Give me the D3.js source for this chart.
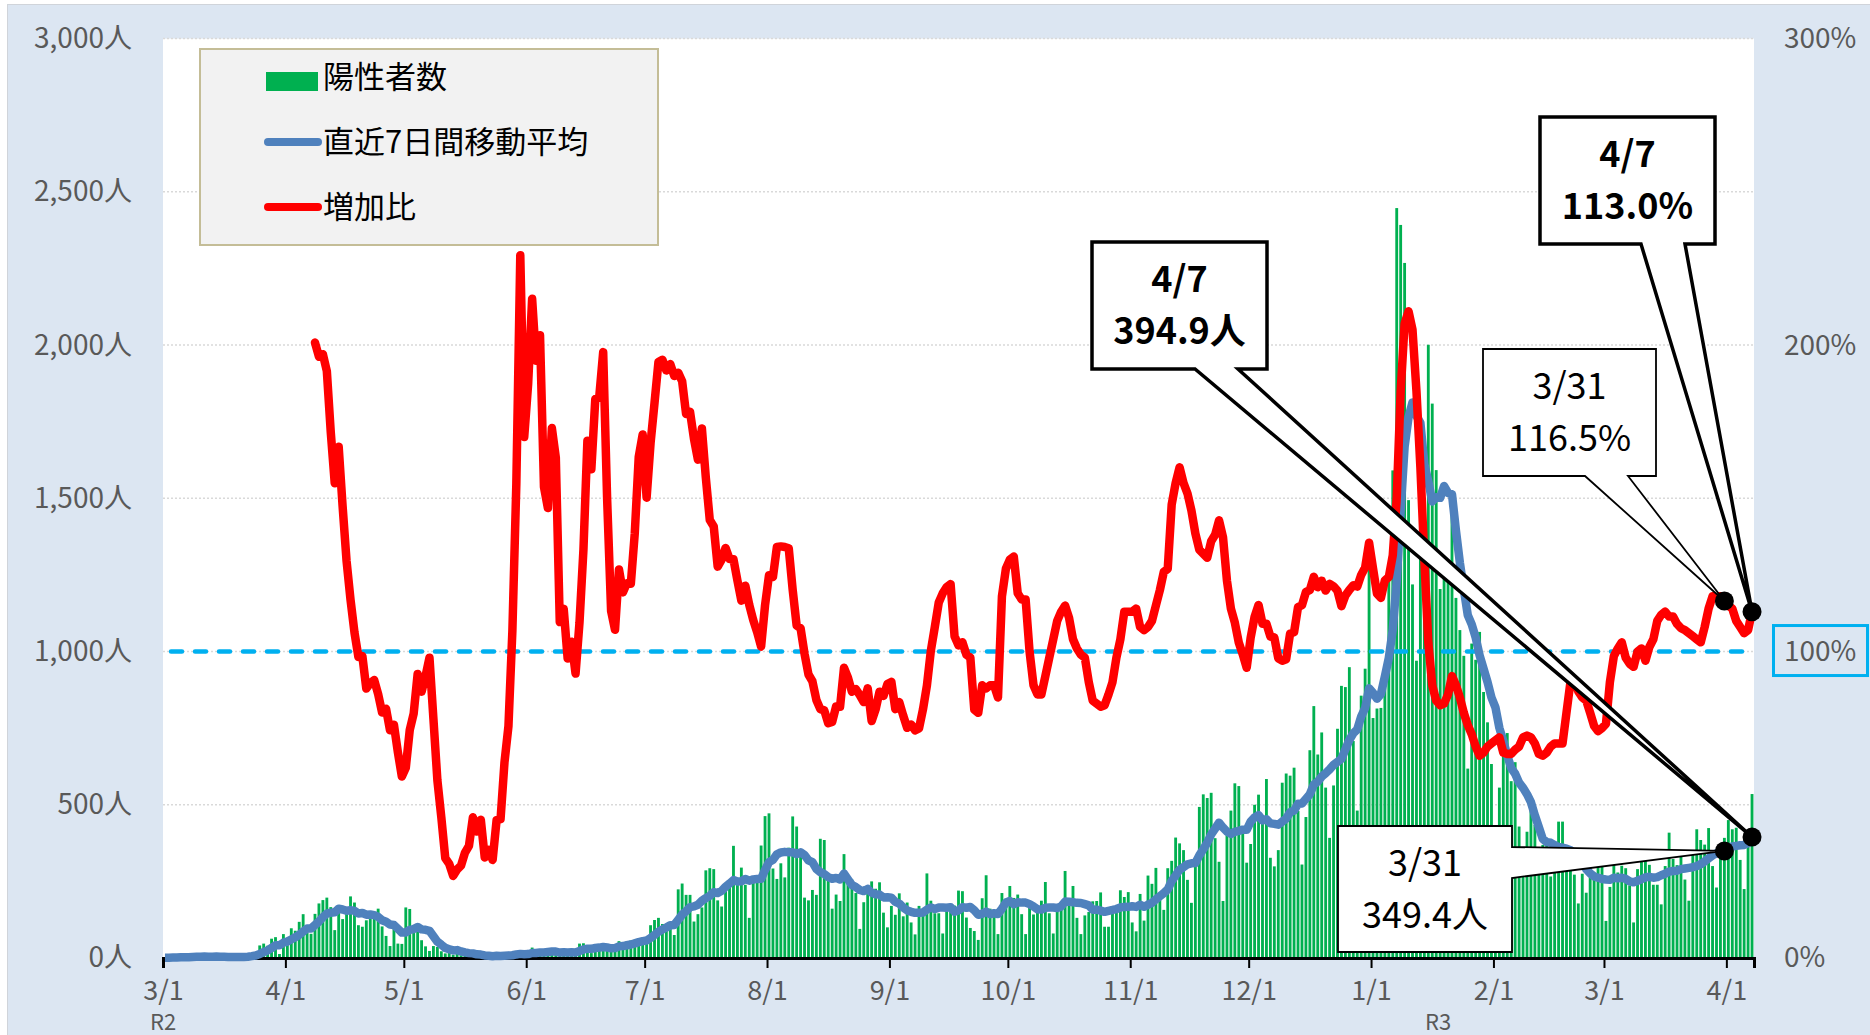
<!DOCTYPE html>
<html>
<head>
<meta charset="utf-8">
<script src="https://cdn.jsdelivr.net/npm/d3@7"></script>
<style>
	body { margin: 0; background: #fff; }
	svg { display: block; }
	text { font-family: "Noto Sans CJK JP", "Noto Sans", sans-serif; }
</style>
</head>
<body>
<div id="chart"></div>
<script>
// daily positive cases, 2020-03-01 .. 2021-04-07
var startDate = new Date(2020, 2, 1);
var cases = [
	// 2020 Mar
	0,0,1,3,8,5,2,6,2,4,7,5,5,4,1,2,1,7,4,1,9,4,16,17,41,47,40,63,68,13,78,
	// Apr
	66,97,89,118,143,83,79,144,178,189,197,166,91,161,127,149,201,181,107,102,123,132,134,161,103,72,39,112,47,46,
	// May
	165,160,91,87,58,38,23,39,36,22,15,28,10,30,9,14,5,10,5,5,11,3,2,14,8,10,11,15,22,14,5,
	// Jun
	13,34,12,28,20,26,14,13,12,18,22,25,24,47,48,27,16,41,35,39,35,29,31,55,48,54,57,60,58,54,
	// Jul
	67,107,124,131,111,102,106,75,224,243,206,206,119,143,165,286,293,290,188,168,237,238,366,260,295,239,131,266,250,367,463,
	// Aug
	472,292,258,309,263,360,462,429,331,197,188,222,206,389,385,260,161,207,186,339,258,256,212,95,182,236,250,226,247,148,100,
	// Sep
	170,141,211,136,181,116,77,170,149,276,187,146,146,80,163,163,171,220,218,132,98,88,59,195,270,161,152,78,212,194,
	// Oct
	235,196,207,143,78,177,142,173,187,248,146,80,167,177,284,185,235,131,78,139,150,185,186,214,102,102,158,171,221,199,215,
	// Nov
	116,87,209,122,269,242,294,189,157,293,317,393,374,352,255,180,298,493,534,522,539,391,314,186,401,481,570,561,418,311,
	// Dec
	372,500,533,449,584,327,299,352,572,602,595,621,480,305,460,678,822,664,736,556,392,563,748,888,884,949,708,481,856,944,1337,
	// 2021 Jan
	783,814,816,884,1278,1591,2447,2392,2268,1494,1219,970,1433,1502,2001,1809,1592,1204,1240,1274,1471,1175,1070,986,618,1026,973,1064,868,769,633,
	// Feb
	393,556,676,734,577,639,429,276,412,491,434,307,369,371,266,378,445,445,353,327,272,178,275,213,340,270,337,329,
	// Mar
	121,232,316,279,301,293,237,116,290,340,335,304,239,239,175,300,409,323,303,342,256,187,337,420,385,370,424,300,230,345,392,
	// Apr
	450,420,425,320,225,380,535
];

// 7-day moving average (same days)
var movingAvg = [
	1.0,1.1,1.3,1.6,2.3,2.7,2.7,3.6,3.9,4.3,
	4.9,4.4,4.4,4.7,4.0,4.0,3.6,3.6,3.4,2.9,
	3.6,4.0,6.0,8.3,13.1,19.3,24.9,32.6,41.7,41.3,
	50.0,53.6,60.7,67.7,75.6,86.3,96.3,96.4,107.6,119.1,
	133.4,144.7,148.0,149.1,160.9,158.4,154.3,156.0,153.7,145.3,
	146.9,141.4,142.1,140.0,134.3,123.1,118.1,109.1,107.6,95.4,
	82.9,83.4,91.6,94.3,101.1,93.4,92.1,88.9,70.9,53.1,
	43.3,33.0,28.7,24.7,25.7,21.4,18.3,15.9,15.1,11.9,
	11.1,8.4,7.6,5.9,7.1,6.9,7.6,8.4,9.0,11.7,
	13.4,12.1,12.9,16.3,16.4,18.3,18.0,19.7,21.0,21.0,
	17.9,18.7,17.9,18.6,18.3,23.0,28.0,30.1,29.9,32.6,
	34.0,36.1,34.4,31.7,32.3,37.9,38.9,41.6,44.1,47.7,
	51.9,55.1,56.9,65.3,75.3,85.9,93.1,99.4,106.9,108.0,
	124.7,141.7,152.4,166.0,168.4,173.7,186.6,195.4,202.6,214.6,
	212.0,219.0,232.4,242.9,254.3,249.6,250.3,257.6,252.3,256.4,
	258.1,258.3,287.3,312.6,320.1,338.3,344.4,346.3,345.3,345.1,
	339.0,344.6,335.9,318.6,312.7,290.7,280.3,274.0,263.9,258.7,
	261.4,256.3,275.3,256.6,238.1,231.3,221.9,218.3,225.4,212.7,
	208.1,206.9,197.7,198.4,196.7,183.1,177.6,164.7,155.3,150.7,
	147.4,147.4,148.6,157.9,165.1,160.1,164.4,164.9,163.9,165.9,
	150.9,155.6,165.9,163.9,166.4,155.7,140.9,144.3,151.4,143.3,
	146.1,143.3,161.0,180.3,186.0,175.4,182.0,180.7,180.7,175.7,
	168.3,159.4,158.1,164.0,164.4,164.7,163.3,168.3,184.1,183.9,
	182.0,179.9,179.6,175.6,171.7,157.6,157.7,154.7,150.6,154.0,
	156.7,159.7,164.9,166.7,166.9,168.9,166.7,174.0,167.0,173.9,
	180.0,191.3,201.7,211.7,223.7,251.6,269.3,288.1,296.4,305.9,
	309.1,309.9,335.0,355.1,376.3,403.0,422.4,441.6,425.6,412.4,
	404.9,411.7,414.9,418.7,418.3,444.9,459.0,466.4,449.1,452.4,
	439.4,437.7,434.9,445.1,455.0,475.9,481.1,503.0,503.9,519.3,
	534.4,565.9,575.7,592.1,603.0,615.4,630.1,640.1,649.6,681.0,
	711.4,733.1,745.9,787.7,815.7,879.9,865.4,846.1,861.6,919.1,
	979.4,1071.9,1230.4,1460.3,1668.0,1764.9,1812.7,1768.7,1746.1,1611.1,
	1555.3,1489.7,1503.7,1501.6,1540.1,1517.4,1513.0,1395.0,1289.4,1202.9,
	1119.1,1088.6,1045.6,987.4,943.6,900.6,850.1,818.0,750.9,708.4,
	661.3,619.7,601.1,572.0,555.3,534.7,508.3,465.4,426.9,388.3,
	378,376,368,362,360,357,352,340,326,312,
	290,276,266,262,258,256,255,262,260,262,
	258,250,247,252,257,263,265,262,264,270,
	275,282,284,285,290,292,294,296,300,306,
	315,325,335,342,347,349.4,358,364,366,368,
	369,375,394.9
];

// week-on-week ratio (%), first value on 2020-04-08
var ratioStart = 38;
var ratio = [
	200.8,196.2,197.0,191.5,171.5,154.9,166.8,147.3,129.5,116.9,
	106.2,98.2,98.5,87.9,89.7,90.7,86.1,80.1,81.3,74.3,
	76.1,67.1,59.2,62.1,74.4,79.8,92.7,86.9,92,98,
	78,58.0,45.9,32.6,30.7,26.8,28.9,30.2,34.4,36.6,
	45.9,41.3,45.1,32.8,35.3,32.0,45.0,45.3,63.9,75.6,
	106.8,154.7,229.3,170.0,187.5,215.1,194.9,203.2,153.7,146.8,
	172.9,163.3,109.6,113.9,97.7,103.2,92.8,109.5,133.3,168.8,
	159.5,182.4,183.1,197.7,149.7,113.3,107.1,126.8,119.3,122.3,
	122.1,138.6,163.5,170.8,150.2,168.0,181.1,194.5,195.2,191.7,
	193.8,189.9,191.0,188.2,177.5,178.2,169.4,162.6,172.8,156.7,
	142.9,140.8,127.7,130.0,133.8,130.2,130.1,123.2,116.6,121.5,
	115.2,110.3,106.3,101.6,115.1,124.9,124.3,134.1,134.3,134.1,
	133.7,120.1,108.5,107.6,99.3,92.5,90.3,84.2,81.2,80.8,
	76.6,77.0,82.1,82.0,94.7,91.5,86.9,87.7,85.8,83.5,
	88.0,77.3,81.1,86.9,85.5,89.4,90.1,81.2,83.5,79.1,
	75.1,76.2,74.3,74.9,81.1,88.9,100.3,108,116,119,
	121,122,105,102,103,99,98,81,80,89,
	88,89,89,85,118,127,130,131,119,117,
	117,100,89,86,86,92,98,104,110,113,
	115,111,104,101,99,98,90,84,83,82,
	82.5,86,90,98,104,113,113,113,114,108,
	107,108,110,115,120,126,127,148,155,160.1,
	155.0,151.6,146.0,138.5,133.2,131.9,130.6,136.0,138.1,142.8,
	137.3,123.1,114.0,109.4,102.9,99.1,94.7,104.5,111.3,115.2,
	109.1,109.1,104.9,104.6,97.8,97.0,97.5,105.9,106.3,114.5,
	115.1,119.4,120.1,124.4,121.0,123.1,119.9,122.1,121.3,119.8,
	114.8,118.3,120.1,121.6,121.2,125.0,127.4,135.5,127.1,118.9,
	117.5,123.2,124.3,131.4,150,185,207,211,205,185,
	160,130,103,89,84,82.5,83,86,92,89,
	85,80,76,73,69,66,67,69,70,71,
	72,67,66.6,66.6,68,69,72,72.6,72,70,
	66.6,66,67,69,70,70,70,80,90,91,
	87,85,84,80,75.7,74,75,76.4,90,98.5,
	101,103,98,96,95,100,101,97,101.5,104,
	110,112,113,111.4,111.4,109,107.6,107,106,105,
	104,103,108,114,118,118,118,116.5,115,114,
	110,108,106,107,113
];

var countTicks = [0, 500, 1000, 1500, 2000, 2500, 3000];
var pctTicks = [0, 100, 200, 300];
var monthTicks = ["2020-03-01","2020-04-01","2020-05-01","2020-06-01","2020-07-01","2020-08-01","2020-09-01",
	"2020-10-01","2020-11-01","2020-12-01","2021-01-01","2021-02-01","2021-03-01","2021-04-01"];
var eraLabels = [{date: "2020-03-01", text: "R2"}, {date: "2021-01-18", text: "R3"}];
var legendItems = ["陽性者数", "直近7日間移動平均", "増加比"];

// callouts: which point they mark and what they say
var callouts = [
	{day: 402, series: "avg", lines: ["4/7", "394.9人"], bold: true,
		box: [1092, 242, 1267, 369], side: "bottom", base: [1195, 1238]},
	{day: 402, series: "ratio", lines: ["4/7", "113.0%"], bold: true,
		box: [1540, 117, 1715, 244], side: "bottom", base: [1641, 1685]},
	{day: 395, series: "ratio", lines: ["3/31", "116.5%"], bold: false,
		box: [1483, 349, 1656, 476], side: "bottom", base: [1585, 1628]},
	{day: 395, series: "avg", lines: ["3/31", "349.4人"], bold: false,
		box: [1338, 826, 1512, 952], side: "right", base: [847, 878]}
];

var W = 1870, H = 1035;
var plot = {left: 163, right: 1754, top: 38.6, bottom: 958};
var parseDay = d3.timeParse("%Y-%m-%d");

var days = d3.timeDay.range(startDate, d3.timeDay.offset(startDate, cases.length));
var endDate = d3.timeDay.offset(startDate, cases.length);

var x = d3.scaleBand().domain(days).range([plot.left, plot.right]).paddingInner(0).paddingOuter(0);
var xt = d3.scaleTime().domain([startDate, endDate]).range([plot.left, plot.right]);
var y = d3.scaleLinear().domain([0, 3000]).range([plot.bottom, plot.top]);
var yr = d3.scaleLinear().domain([0, 300]).range([plot.bottom, plot.top]);
var bw = x.bandwidth();

var svg = d3.select("#chart").append("svg")
	.attr("width", W)
	.attr("height", H);

svg.append("rect")
	.attr("x", 7.5).attr("y", 4.5)
	.attr("width", W - 7).attr("height", H - 4)
	.attr("fill", "#dce6f2")
	.attr("stroke", "#d0d4da");

svg.append("rect")
	.attr("x", plot.left).attr("y", plot.top)
	.attr("width", plot.right - plot.left)
	.attr("height", plot.bottom - plot.top)
	.attr("fill", "#fff");

// gridlines
svg.append("g")
	.selectAll("line")
	.data(countTicks.filter(function(d) { return d > 0; }))
	.enter().append("line")
	.attr("x1", plot.left).attr("x2", plot.right)
	.attr("y1", function(d) { return y(d); })
	.attr("y2", function(d) { return y(d); })
	.attr("stroke", "#d9d9d9")
	.attr("stroke-width", 1.5)
	.attr("stroke-dasharray", "2,2");

// left axis
var leftAxis = svg.append("g")
	.attr("transform", "translate(132,0)")
	.call(d3.axisLeft(y).tickValues(countTicks).tickSize(0).tickPadding(0)
		.tickFormat(function(d) { return d3.format(",")(d) + "人"; }));
leftAxis.select(".domain").remove();
leftAxis.selectAll("text")
	.attr("font-size", 28)
	.attr("fill", "#595959")
	.attr("font-family", "\"Noto Sans CJK JP\", sans-serif");

// right axis
var rightAxis = svg.append("g")
	.attr("transform", "translate(1784,0)")
	.call(d3.axisRight(yr).tickValues(pctTicks).tickSize(0).tickPadding(0)
		.tickFormat(function(d) { return d + "%"; }));
rightAxis.select(".domain").remove();
rightAxis.selectAll("text")
	.attr("font-size", 28)
	.attr("fill", "#595959")
	.attr("font-family", "\"Noto Sans CJK JP\", sans-serif");

svg.append("rect")
	.attr("x", 1773.5).attr("y", yr(100) - 26)
	.attr("width", 94).attr("height", 50)
	.attr("fill", "none")
	.attr("stroke", "#00b0f0")
	.attr("stroke-width", 3);

// bars
svg.append("g")
	.selectAll("rect")
	.data(cases)
	.enter().append("rect")
	.attr("x", function(d, i) { return x(days[i]) + bw * 0.14; })
	.attr("width", bw * 0.72)
	.attr("y", function(d) { return y(d); })
	.attr("height", function(d) { return plot.bottom - y(d); })
	.attr("fill", "#00b050");

// 100% reference line
svg.append("line")
	.attr("x1", plot.left + 8).attr("x2", plot.right - 6)
	.attr("y1", yr(100)).attr("y2", yr(100))
	.attr("stroke", "#00b0f0")
	.attr("stroke-width", 4.5)
	.attr("stroke-linecap", "round")
	.attr("stroke-dasharray", "11,13");

// x axis
var xAxis = svg.append("g")
	.attr("transform", "translate(0," + plot.bottom + ")")
	.call(d3.axisBottom(xt).tickValues(monthTicks.map(parseDay)).tickSize(10).tickPadding(13)
		.tickFormat(d3.timeFormat("%-m/%-d")));
xAxis.select(".domain")
	.attr("stroke", "#000")
	.attr("stroke-width", 3);
xAxis.selectAll(".tick line")
	.attr("stroke", "#000")
	.attr("stroke-width", 2);
xAxis.selectAll("text")
	.attr("font-size", 27)
	.attr("fill", "#595959")
	.attr("font-family", "\"Noto Sans CJK JP\", sans-serif");

// era labels sit just under the month labels, as in the original
svg.append("g")
	.selectAll("text")
	.data(eraLabels)
	.enter().append("text")
	.attr("x", function(d) { return xt(parseDay(d.date)); })
	.attr("y", 1030)
	.attr("text-anchor", "middle")
	.attr("font-size", 22)
	.attr("fill", "#595959")
	.text(function(d) { return d.text; });

// moving average and ratio lines
var avgLine = d3.line()
	.x(function(d, i) { return x(days[i]) + bw / 2; })
	.y(function(d) { return y(d); });
svg.append("path")
	.datum(movingAvg)
	.attr("d", avgLine)
	.attr("fill", "none")
	.attr("stroke", "#4f81bd")
	.attr("stroke-width", 8.5)
	.attr("stroke-linejoin", "round");

var ratioLine = d3.line()
	.x(function(d, i) { return x(days[i + ratioStart]) + bw / 2; })
	.y(function(d) { return yr(d); });
svg.append("path")
	.datum(ratio)
	.attr("d", ratioLine)
	.attr("fill", "none")
	.attr("stroke", "#ff0000")
	.attr("stroke-width", 8.5)
	.attr("stroke-linejoin", "round")
	.attr("stroke-linecap", "round");

// legend
var legend = svg.append("g");
legend.append("rect")
	.attr("x", 200).attr("y", 49)
	.attr("width", 458).attr("height", 196)
	.attr("fill", "#f2f2f2")
	.attr("stroke", "#c4bd97")
	.attr("stroke-width", 2);
legend.append("rect")
	.attr("x", 266).attr("y", 72)
	.attr("width", 52).attr("height", 19)
	.attr("fill", "#00b050");
legend.append("line")
	.attr("x1", 268).attr("x2", 318).attr("y1", 142).attr("y2", 142)
	.attr("stroke", "#4f81bd").attr("stroke-width", 8).attr("stroke-linecap", "round");
legend.append("line")
	.attr("x1", 268).attr("x2", 318).attr("y1", 207).attr("y2", 207)
	.attr("stroke", "#ff0000").attr("stroke-width", 8).attr("stroke-linecap", "round");
legend.selectAll("text.item")
	.data(legendItems)
	.enter().append("text")
	.attr("class", "item")
	.attr("x", 323)
	.attr("y", function(d, i) { return [77, 142, 207][i]; })
	.attr("dy", "0.36em")
	.attr("font-size", 31)
	.attr("fill", "#000")
	.text(function(d) { return d; });

// callouts
function pointOf(c) {
	var px = x(days[c.day]) + bw / 2;
	var py = c.series === "avg" ? y(movingAvg[c.day]) : yr(ratio[c.day - ratioStart]);
	return [px, py];
}

callouts.forEach(function(c) {
	var p = pointOf(c);
	var b = c.box;
	var d;
	if (c.side === "bottom") {
		d = "M" + b[0] + "," + b[1] + "H" + b[2] + "V" + b[3] + "H" + c.base[1] +
			"L" + p[0] + "," + p[1] + "L" + c.base[0] + "," + b[3] + "H" + b[0] + "Z";
	} else {
		d = "M" + b[0] + "," + b[1] + "H" + b[2] + "V" + c.base[0] +
			"L" + p[0] + "," + p[1] + "L" + b[2] + "," + c.base[1] + "V" + b[3] + "H" + b[0] + "Z";
	}
	svg.append("path")
		.attr("d", d)
		.attr("fill", "#fff")
		.attr("stroke", "#000")
		.attr("stroke-width", c.bold ? 3.5 : 1.8)
		.attr("stroke-linejoin", "miter");
	var cx = (b[0] + b[2]) / 2, cy = (b[1] + b[3]) / 2;
	svg.append("g")
		.selectAll("text")
		.data(c.lines)
		.enter().append("text")
		.attr("x", cx)
		.attr("y", function(t, i) { return cy + (i === 0 ? -26 : 26); })
		.attr("dy", "0.36em")
		.attr("text-anchor", "middle")
		.attr("font-size", 36)
		.attr("font-weight", c.bold ? "bold" : "normal")
		.attr("fill", "#000")
		.text(function(t) { return t; });
});

// markers
svg.append("g")
	.selectAll("circle")
	.data(callouts)
	.enter().append("circle")
	.attr("cx", function(c) { return pointOf(c)[0]; })
	.attr("cy", function(c) { return pointOf(c)[1]; })
	.attr("r", 9.5)
	.attr("fill", "#000");
</script>
</body>
</html>
